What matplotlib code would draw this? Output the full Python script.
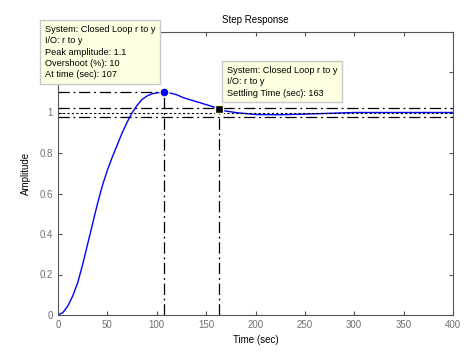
import matplotlib
matplotlib.use("Agg")
import matplotlib.pyplot as plt

# step response
time = [0, 5, 10, 15, 20, 25, 30, 35, 40, 45, 50, 55, 60, 65, 70, 75, 80, 85, 90,
        95, 100, 107, 113, 120, 127, 135, 144, 152, 158, 163, 169, 181, 200, 225,
        250, 275, 300, 400]
amplitude = [0, 0.012, 0.045, 0.095, 0.16, 0.25, 0.35, 0.45, 0.55, 0.64, 0.715, 0.78,
             0.84, 0.90, 0.952, 0.998, 1.035, 1.064, 1.081, 1.092, 1.097, 1.1, 1.097,
             1.088, 1.073, 1.061, 1.048, 1.036, 1.027, 1.015, 1.008, 0.999, 0.99,
             0.989, 0.992, 0.996, 1.0, 1.0]

peak_time = 107
peak_amp = 1.1
settle_time = 163
settle_amp = 1.015
final_value = 1.0
band = [0.98, 1.02]

xticks = [0, 50, 100, 150, 200, 250, 300, 350, 400]
yticks = [0, 0.2, 0.4, 0.6, 0.8, 1.0, 1.2, 1.4]
# labels of 1.2 and 1.4 sit under the data tip box in the reference
ytick_labels = ['0', '0.2', '0.4', '0.6', '0.8', '1', '', '']

peak_text = ("System: Closed Loop r to y\nI/O: r to y\nPeak amplitude: 1.1\n"
             "Overshoot (%): 10\nAt time (sec): 107")
settle_text = "System: Closed Loop r to y\nI/O: r to y\nSettling Time (sec): 163"

plt.rcParams['font.family'] = ['Liberation Sans', 'DejaVu Sans']

W, H = 471, 353
fig = plt.figure(figsize=(W / 100, H / 100), dpi=100)
ax = fig.add_axes([58 / W, (H - 315) / H, 395 / W, 283.5 / H])

dashdot = (0, (9, 3, 1.5, 3))
ax.plot(time, amplitude, color='blue', lw=1)

# peak lines
ax.plot([0, peak_time], [peak_amp, peak_amp], color='black', lw=0.9, ls=dashdot)
ax.plot([peak_time, peak_time], [0, peak_amp], color='black', lw=0.9, ls=dashdot)
# settling band and final value
for b in band:
    ax.axhline(b, color='black', lw=0.9, ls=dashdot)
ax.axhline(final_value, color='black', lw=0.8, ls=(0, (2, 2)))
ax.plot([settle_time, settle_time], [0, settle_amp], color='black', lw=0.9, ls=dashdot)

ax.plot([peak_time], [peak_amp], 'o', color='blue', ms=6.5,
        mec='#ffffd0', mew=1, zorder=5)
ax.plot([settle_time], [settle_amp], 's', color='black', ms=6,
        mec='#ffffd0', mew=1, zorder=5)

ax.set_xlim(0, 400)
ax.set_ylim(0, 1.4)
ax.set_xticks(xticks)
ax.set_yticks(yticks)
ax.set_yticklabels(ytick_labels)
ax.tick_params(direction='in', length=3, labelsize=7, colors='#555555',
               labelcolor='#707070', top=True, right=True)
for s in ax.spines.values():
    s.set_color('#555555')
    s.set_linewidth(0.8)

ax.set_title('Step Response', fontsize=7, pad=6)
ax.set_xlabel('Time (sec)', fontsize=7, labelpad=4)
ax.set_ylabel('Amplitude', fontsize=7, labelpad=6)

box = dict(boxstyle='square,pad=0.5', fc='#ffffe1', ec='#c8c8c8', lw=1)
fig.text(45 / W, 1 - 25 / H, peak_text, fontsize=6.6, va='top', ha='left',
         linespacing=1.33, bbox=box, zorder=10)
fig.text(227 / W, 1 - 66 / H, settle_text, fontsize=6.6, va='top', ha='left',
         linespacing=1.33, bbox=box, zorder=10)

fig.savefig('out.png', dpi=100)
